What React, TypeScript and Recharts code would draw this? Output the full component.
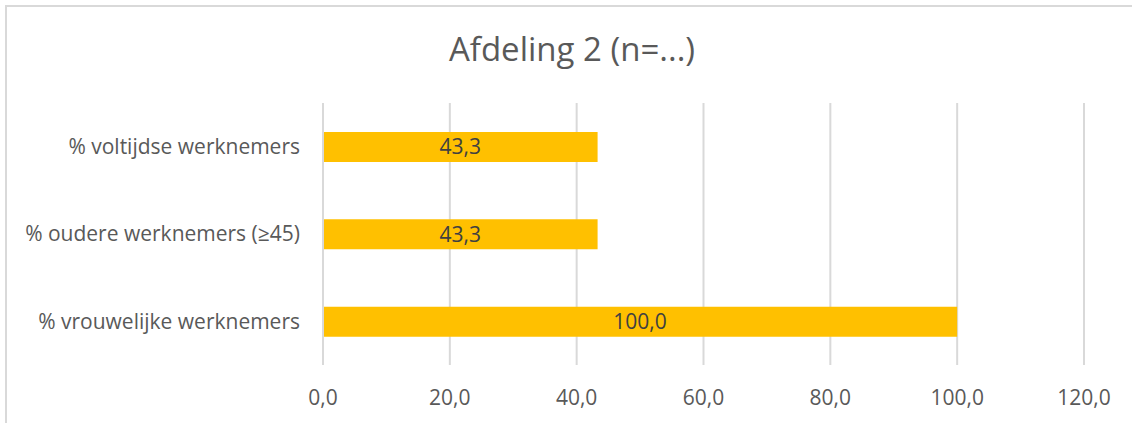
import React from "react";
import { BarChart, Bar, XAxis, YAxis, CartesianGrid, LabelList } from "recharts";

const categories = [
  "% voltijdse werknemers",
  "% oudere werknemers (≥45)",
  "% vrouwelijke werknemers",
];
const values = [43.3, 43.3, 100.0];
const xTicks = [0, 20, 40, 60, 80, 100, 120];

const data = categories.map((name, i) => ({ name, value: values[i] }));

const fmt = (v: number) => v.toFixed(1).replace(".", ",");
const FONT = "'Open Sans', sans-serif";

export default function App() {
  return (
    <div style={{ position: "absolute", left: 0, top: 0, width: 1132, height: 423, background: "#fff", overflow: "hidden" }}>
      <div
        style={{
          position: "absolute",
          left: 5,
          top: 5,
          width: 1160,
          height: 450,
          border: "2px solid #d9d9d9",
        }}
      />
      <div
        style={{
          position: "absolute",
          top: 26,
          left: 0,
          width: 1144,
          textAlign: "center",
          fontFamily: FONT,
          fontSize: 33,
          lineHeight: "45px",
          color: "#595959",
        }}
      >
        Afdeling 2 (n=...)
      </div>
      <div style={{ position: "absolute", left: 0, top: 0 }}>
        <BarChart
          width={1132}
          height={423}
          data={data}
          layout="vertical"
          margin={{ top: 103, right: 48, bottom: 0, left: 0 }}
          barSize={30}
        >
          <CartesianGrid horizontal={false} stroke="#d9d9d9" strokeWidth={2} />
          <XAxis
            type="number"
            domain={[0, 120]}
            ticks={xTicks}
            tickFormatter={fmt}
            axisLine={false}
            tickLine={false}
            tickSize={0}
            tickMargin={25}
            height={58}
            tick={{ fill: "#595959", fontSize: 21, fontFamily: FONT }}
          />
          <YAxis
            type="category"
            dataKey="name"
            width={323}
            axisLine={{ stroke: "#d9d9d9", strokeWidth: 2 }}
            tickLine={false}
            tickSize={0}
            tickMargin={23}
            tick={{ fill: "#595959", fontSize: 21, fontFamily: FONT }}
          />
          <Bar dataKey="value" fill="#ffc000" isAnimationActive={false}>
            <LabelList
              dataKey="value"
              position="center"
              formatter={(v: any) => fmt(Number(v))}
              style={{ fill: "#404040", fontSize: 21, fontFamily: FONT }}
            />
          </Bar>
        </BarChart>
      </div>
    </div>
  );
}
